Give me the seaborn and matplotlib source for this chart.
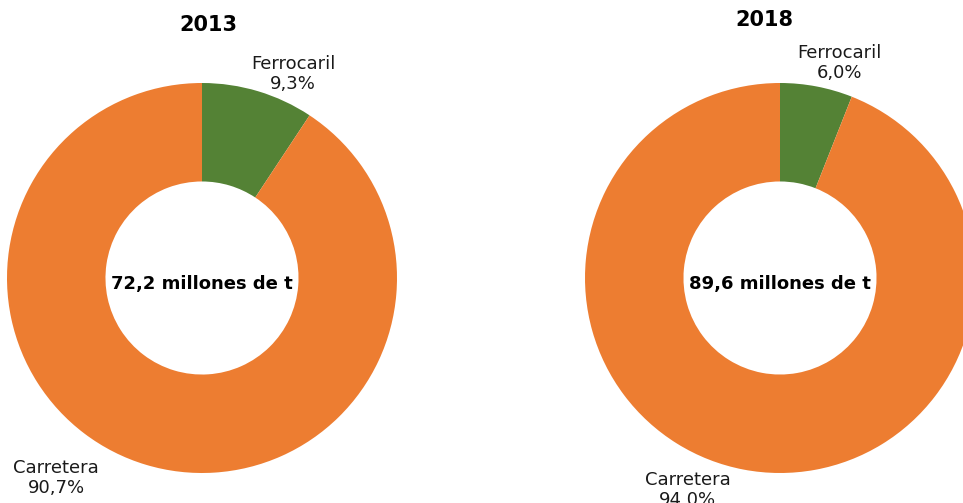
import matplotlib.pyplot as plt
import seaborn as sns

# --- Datos ---
anios = ["2013", "2018"]
modos = ["Ferrocaril", "Carretera"]
cuota_2013 = [9.3, 90.7]
cuota_2018 = [6.0, 94.0]
totales = ["72,2", "89,6"]

COLORES = ["#548235", "#ED7D31"]

sns.set_theme(style="white")
plt.rcParams['font.family'] = ['DejaVu Sans']

W, H = 963, 503
fig = plt.figure(figsize=(W / 100, H / 100), dpi=100)
fig.patch.set_facecolor("white")

R = 195  # radio en px
centros = [(202, 278), (780, 278)]
# posiciones de etiquetas en unidades del radio
pos_ferro = [(0.467, 1.046), (0.303, 1.103)]
pos_carr = [(-0.749, -1.026), (-0.474, -1.087)]
titulos_xy = [(208, 25), (764, 20)]


def fmt(v):
    return f"{v:.1f}".replace('.', ',') + '%'


for i, (anio, valores) in enumerate(zip(anios, [cuota_2013, cuota_2018])):
    cx, cy = centros[i]
    ax = fig.add_axes([(cx - R) / W, (H - cy - R) / H, 2 * R / W, 2 * R / H])
    ax.pie(
        valores,
        colors=COLORES,
        startangle=90,
        counterclock=False,
        radius=1,
        wedgeprops=dict(width=0.505, linewidth=0),
    )
    ax.set_xlim(-1, 1)
    ax.set_ylim(-1, 1)
    ax.set_aspect('equal')
    ax.axis('off')

    ax.text(pos_ferro[i][0], pos_ferro[i][1], f"{modos[0]}\n{fmt(valores[0])}",
            ha='center', va='center', fontsize=13, color='#1a1a1a',
            linespacing=1.15, clip_on=False)
    ax.text(pos_carr[i][0], pos_carr[i][1], f"{modos[1]}\n{fmt(valores[1])}",
            ha='center', va='center', fontsize=13, color='#1a1a1a',
            linespacing=1.15, clip_on=False)
    ax.text(0, -0.03, f"{totales[i]} millones de t", ha='center', va='center',
            fontsize=13, fontweight='bold', color='black')

    tx, ty = titulos_xy[i]
    fig.text(tx / W, 1 - ty / H, anio, ha='center', va='center',
             fontsize=15, fontweight='bold', color='black')

plt.savefig("out.png", dpi=100)
plt.close()
